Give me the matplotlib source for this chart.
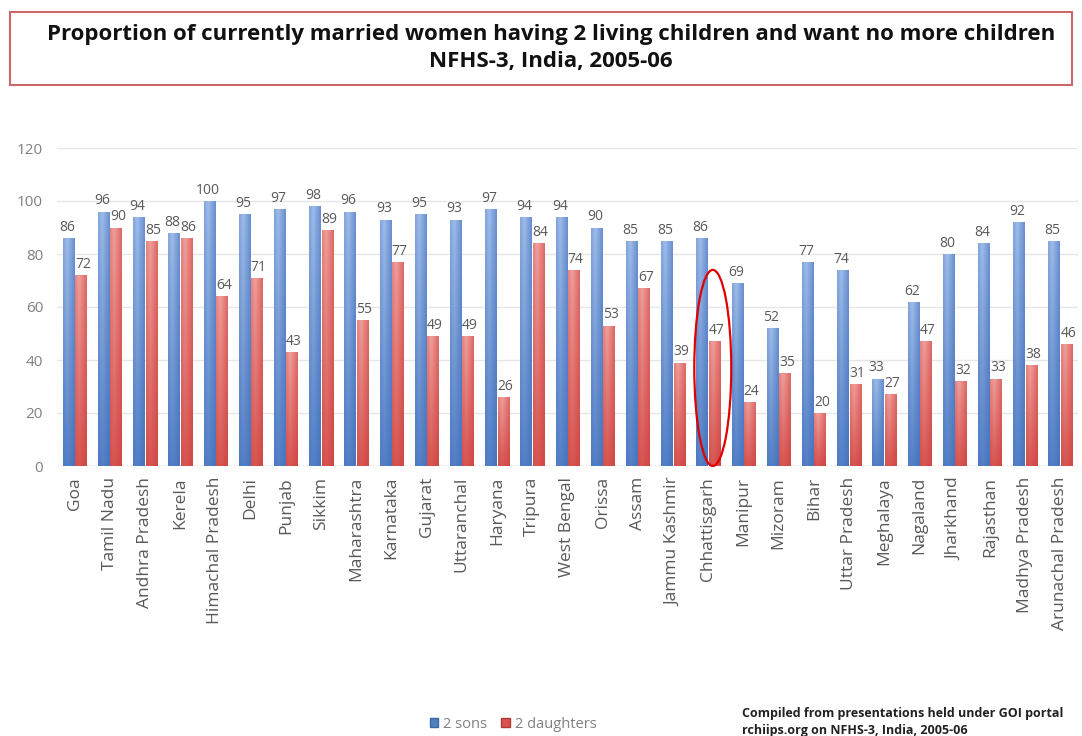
import numpy as np
import matplotlib
matplotlib.use("Agg")
import matplotlib.pyplot as plt
from matplotlib.patches import Ellipse, Rectangle, Patch

# -------------------------
# data
# -------------------------
states = ["Goa", "Tamil Nadu", "Andhra Pradesh", "Kerela", "Himachal Pradesh",
          "Delhi", "Punjab", "Sikkim", "Maharashtra", "Karnataka", "Gujarat",
          "Uttaranchal", "Haryana", "Tripura", "West Bengal", "Orissa", "Assam",
          "Jammu Kashmir", "Chhattisgarh", "Manipur", "Mizoram", "Bihar",
          "Uttar Pradesh", "Meghalaya", "Nagaland", "Jharkhand", "Rajasthan",
          "Madhya Pradesh", "Arunachal Pradesh"]
sons = [86, 96, 94, 88, 100, 95, 97, 98, 96, 93, 95, 93, 97, 94, 94, 90, 85,
        85, 86, 69, 52, 77, 74, 33, 62, 80, 84, 92, 85]
daughters = [72, 90, 85, 86, 64, 71, 43, 89, 55, 77, 49, 49, 26, 84, 74, 53, 67,
             39, 47, 24, 35, 20, 31, 27, 47, 32, 33, 38, 46]
yticks = [0, 20, 40, 60, 80, 100, 120]
highlight = "Chhattisgarh"

title = ("Proportion of currently married women having 2 living children and want no more children\n"
         "NFHS-3, India, 2005-06")
source = ("Compiled from presentations held under GOI portal\n"
          "rchiips.org on NFHS-3, India, 2005-06")

plt.rcParams['font.family'] = ['Open Sans', 'DejaVu Sans']

W, H = 1082, 736
fig = plt.figure(figsize=(W / 100, H / 100), dpi=100)
fig.patch.set_facecolor("white")

# axes: 0 at y=466px, 120 at y=148px, left edge ~57px, ~35px per category
n = len(states)
left_px, step_px = 57, 35.2
ax = fig.add_axes([left_px / W, (H - 466) / H, n * step_px / W, (466 - 148) / H])

x = np.arange(n)
bw = 0.32
off = 0.175


def shaded(light, dark):
    # vertical + horizontal gradient for a cylinder-ish bar
    ny, nx = 64, 32
    t = np.linspace(0, 1, ny)[:, None]          # 0 bottom -> 1 top
    u = np.linspace(0, 1, nx)[None, :]
    hor = 1 - 0.55 * np.abs(u - 0.35) / 0.65    # bright band left of centre
    mix = np.clip(0.2 + 0.55 * t * hor + 0.2 * hor - 0.1, 0, 1)
    light = np.array(matplotlib.colors.to_rgb(light))
    dark = np.array(matplotlib.colors.to_rgb(dark))
    return dark + (light - dark) * mix[..., None]


grad_blue = shaded("#b4cdf2", "#2c5fb3")
grad_red = shaded("#f7b3b0", "#c82e2a")

bars_s = ax.bar(x - off, sons, bw, color="#4f81bd", zorder=2, label="2 sons")
bars_d = ax.bar(x + off, daughters, bw, color="#d9534f", zorder=2, label="2 daughters")

for bars, grad in ((bars_s, grad_blue), (bars_d, grad_red)):
    for b in bars:
        x0, h, w = b.get_x(), b.get_height(), b.get_width()
        im = ax.imshow(grad, extent=[x0, x0 + w, 0, h], origin="lower",
                       aspect="auto", zorder=3, interpolation="bilinear")
        im.set_clip_path(b)

# value labels (daughters' labels sit a touch right, as in the original)
for bars, dx in ((bars_s, -0.04), (bars_d, 0.06)):
    for b in bars:
        ax.text(b.get_x() + b.get_width() / 2 + dx, b.get_height() + 1.2,
                f"{b.get_height():.0f}", ha="center", va="bottom",
                fontsize=10, color="#595959", zorder=4)

ax.set_xlim(-0.5, n - 0.5)
ax.set_ylim(0, 120)
ax.set_yticks(yticks)
ax.yaxis.grid(True, color="#e6e6e6", lw=1, zorder=0)
ax.set_axisbelow(True)
ax.tick_params(axis="y", length=0, labelsize=11, labelcolor="#808080", pad=10)
ax.set_xticks(x)
ax.set_xticklabels(states, rotation=90, fontsize=12.5, color="#595959")
ax.tick_params(axis="x", length=0, pad=8)
for s in ax.spines.values():
    s.set_visible(False)
ax.axhline(0, color="#d9d9d9", lw=1, zorder=1)

# red ellipse around the highlighted state
i = states.index(highlight)
ax.add_patch(Ellipse((i + 0.13, 37), 1.05, 74, fill=False, edgecolor="#e00000",
                     lw=1.6, zorder=5, clip_on=False))

# title box
fig.patches.append(Rectangle((10 / W, 1 - 85 / H), 1062 / W, 73 / H,
                             transform=fig.transFigure, fill=False,
                             edgecolor="#c9676a", lw=1.5))
fig.text(551 / W, 1 - 48 / H, title, ha="center", va="center",
         fontsize=16, fontweight="bold", linespacing=1.4, color="#111111")

# legend
handles = [Patch(facecolor="#4f81bd", edgecolor="#3a68a8"),
           Patch(facecolor="#d9534f", edgecolor="#b03a37")]
fig.legend(handles, ["2 sons", "2 daughters"], loc="center",
           bbox_to_anchor=(513 / W, 1 - 724 / H), ncol=2, frameon=False,
           fontsize=10.5, labelcolor="#808080", handlelength=0.6, handleheight=0.6,
           handletextpad=0.3, columnspacing=1.0)

fig.text(742 / W, 1 - 722 / H, source, ha="left", va="center", fontsize=9,
         fontweight="bold", linespacing=1.45, color="#222222")

fig.savefig("out.png", dpi=100)
